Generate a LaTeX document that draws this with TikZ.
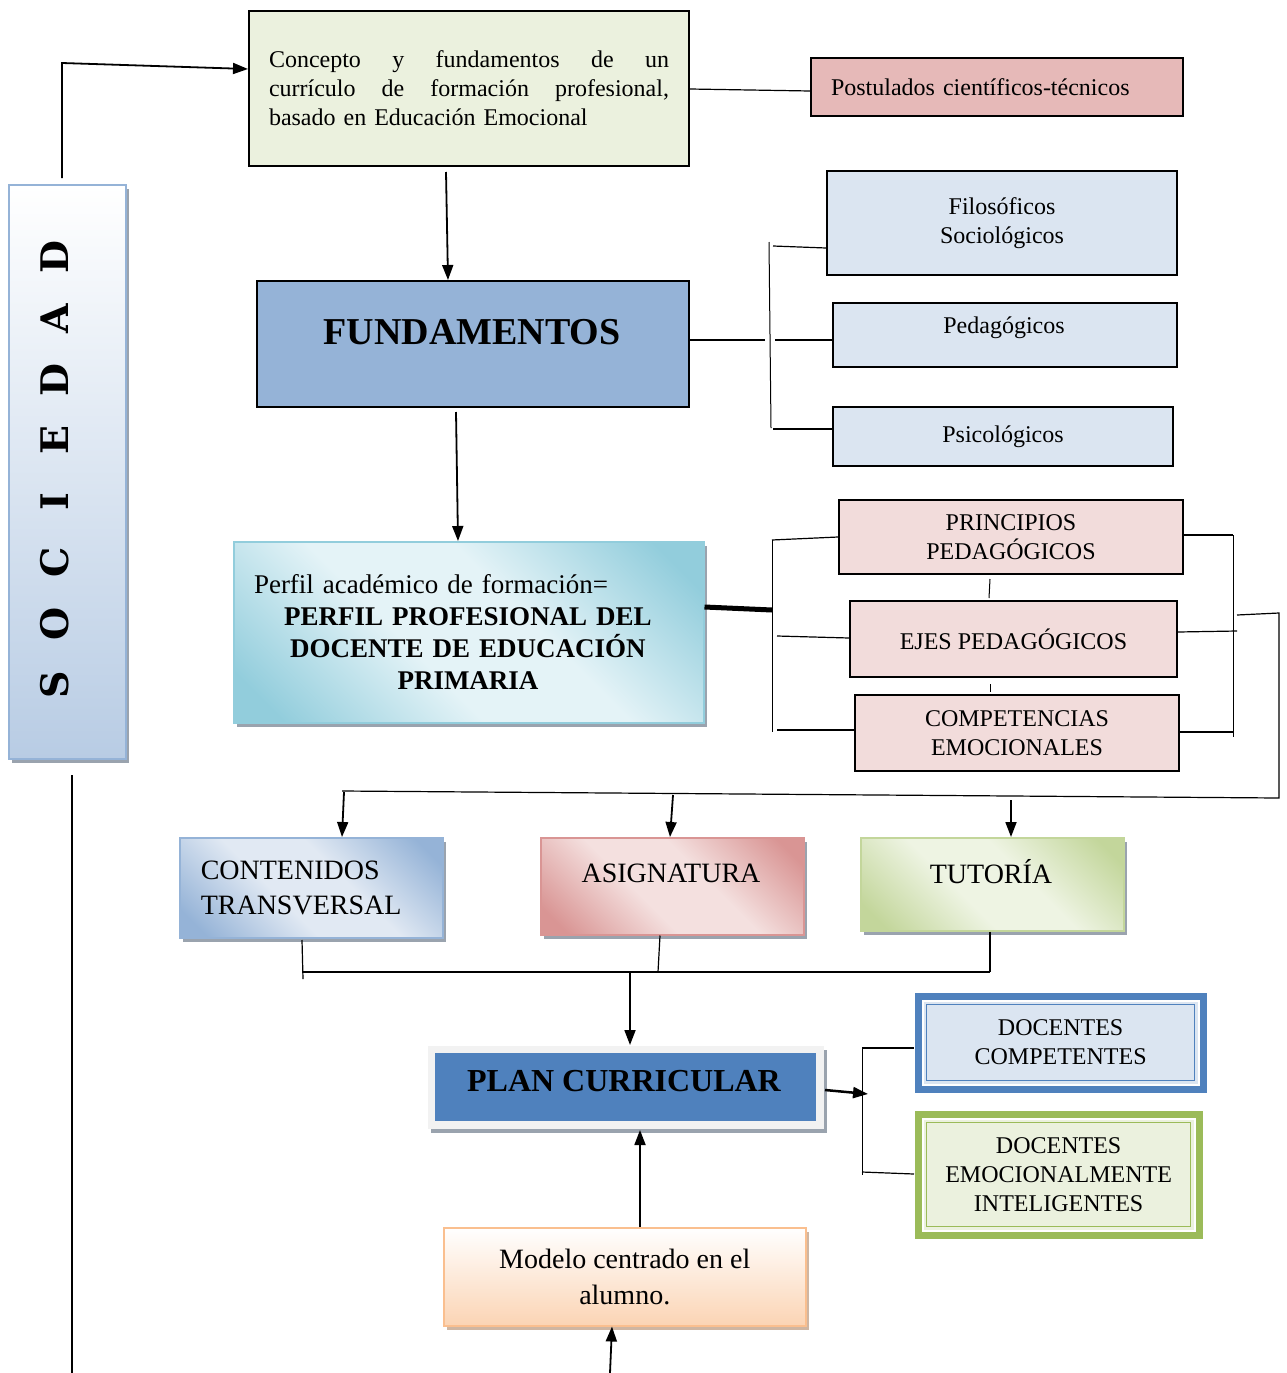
\documentclass[tikz,border=0pt]{standalone}
\usepackage{fontspec}
\setmainfont{Liberation Serif}
\newfontfamily\slab{DejaVu Serif}
\usetikzlibrary{shadows,arrows.meta}
\definecolor{cGreenL}{HTML}{EBF1DE}
\definecolor{cRed}{HTML}{E6B9B8}
\definecolor{cBlueL}{HTML}{DBE5F1}
\definecolor{cBlueM}{HTML}{95B3D7}
\definecolor{cBlueS}{HTML}{B8CCE4}
\definecolor{cPink}{HTML}{F2DCDB}
\definecolor{cAqua}{HTML}{92CDDC}
\definecolor{cAquaL}{HTML}{E4F3F7}
\definecolor{cRedD}{HTML}{D99594}
\definecolor{cRedL}{HTML}{F4E0DF}
\definecolor{cGreenD}{HTML}{C3D69B}
\definecolor{cGreenLL}{HTML}{EEF4E3}
\definecolor{cBlueD}{HTML}{4F81BD}
\definecolor{cBlueLL}{HTML}{E1E9F3}
\definecolor{cOlive}{HTML}{9BBB59}
\definecolor{cPeach}{HTML}{FBD4B4}
\definecolor{cPeachB}{HTML}{FABF8F}
\definecolor{cShadow}{HTML}{9AA3AE}
\pgfdeclarehorizontalshading{diagaqua}{100bp}{color(0bp)=(cAqua); color(20bp)=(cAqua); color(42bp)=(cAquaL); color(58bp)=(cAquaL); color(80bp)=(cAqua); color(100bp)=(cAqua)}
\pgfdeclarehorizontalshading{diagblue}{100bp}{color(0bp)=(cBlueM); color(20bp)=(cBlueM); color(42bp)=(cBlueLL); color(58bp)=(cBlueLL); color(80bp)=(cBlueM); color(100bp)=(cBlueM)}
\pgfdeclarehorizontalshading{diagred}{100bp}{color(0bp)=(cRedD); color(20bp)=(cRedD); color(42bp)=(cRedL); color(58bp)=(cRedL); color(80bp)=(cRedD); color(100bp)=(cRedD)}
\pgfdeclarehorizontalshading{diaggreen}{100bp}{color(0bp)=(cGreenD); color(20bp)=(cGreenD); color(42bp)=(cGreenLL); color(58bp)=(cGreenLL); color(80bp)=(cGreenD); color(100bp)=(cGreenD)}
\tikzset{
  bx/.style={draw=black, line width=2pt, inner sep=0pt, anchor=north west, font=\fontsize{24}{29}\selectfont, align=center},
  sh/.style={drop shadow={shadow xshift=3pt, shadow yshift=-4pt, fill=cShadow, opacity=1}},
  ln/.style={draw=black, line width=1.8pt},
  thinln/.style={draw=black, line width=1pt},
  conn/.style={draw=black, line width=1.2pt},
  arr/.style={ln, -{Triangle[length=15pt,width=11pt]}},
  txt/.style={inner sep=0pt, align=center},
}
\begin{document}
\begin{tikzpicture}[x=1pt,y=-1pt]
\useasboundingbox (0,0) rectangle (1286,1373);
\fill[white] (0,0) rectangle (1286,1373);

% SOCIEDAD
\node[bx, draw=cBlueM, line width=2pt, top color=white, bottom color=cBlueS, sh, minimum width=117pt, minimum height=574pt] (soc) at (8,184) {};
\node[txt, rotate=90, font=\slab\bfseries\fontsize{38}{40}\selectfont] (socT) at (55,471)
  {\makebox[61pt]{S}\makebox[61pt]{O}\makebox[61pt]{C}\makebox[61pt]{I}\makebox[61pt]{E}\makebox[61pt]{D}\makebox[61pt]{A}\makebox[61pt]{D}};

% Concepto
\node[bx, fill=cGreenL, minimum width=440pt, minimum height=155pt, text width=400pt, align=left] (conc) at (248,10)
  {\makebox[400pt][l]{Concepto\hfill y\hfill fundamentos\hfill de\hfill un}\\
   \makebox[400pt][l]{currículo\hfill de\hfill formación\hfill profesional,}\\
   basado en Educación Emocional};
% Postulados
\node[bx, fill=cRed, minimum width=372pt, minimum height=58pt, text width=332pt, align=left] (post) at (810,57)
  {Postulados científicos-técnicos};

% FUNDAMENTOS
\node[bx, fill=cBlueM, minimum width=432pt, minimum height=126pt] (fund) at (256,280) {};
\node[txt, font=\bfseries\fontsize{38}{40}\selectfont] (fundT) at (472,332) {FUNDAMENTOS};

% fundamentos subs
\node[bx, fill=cBlueL, minimum width=350pt, minimum height=104pt] (filo) at (826,170) {Filosóficos\\Sociológicos};
\node[bx, fill=cBlueL, minimum width=344pt, minimum height=64pt] (pedag) at (832,302) {};
\node[txt, font=\fontsize{24}{29}\selectfont] (pedagT) at (1004,328) {Pedagógicos};
\node[bx, fill=cBlueL, minimum width=340pt, minimum height=59pt] (psico) at (832,406) {Psicológicos};

% Perfil
\node[bx, draw=cAqua, line width=1.5pt, shading=diagaqua, shading angle=45, sh, minimum width=470pt, minimum height=181pt] (perf) at (233,541) {};
\node[txt, text width=428pt, font=\fontsize{27}{32}\selectfont] (perfT) at (468,632)
  {\makebox[428pt][l]{Perfil académico de formación=}\\
   {\bfseries PERFIL PROFESIONAL DEL\\ DOCENTE DE EDUCACIÓN\\ PRIMARIA}};

% principios etc
\node[bx, fill=cPink, minimum width=344pt, minimum height=74pt] (prin) at (838,499) {PRINCIPIOS\\PEDAGÓGICOS};
\node[bx, fill=cPink, minimum width=327pt, minimum height=76pt] (ejes) at (849,600) {EJES PEDAGÓGICOS};
\node[bx, fill=cPink, minimum width=324pt, minimum height=76pt] (comp) at (854,694) {COMPETENCIAS\\EMOCIONALES};

% three boxes
\node[bx, draw=cBlueM, line width=1.5pt, shading=diagblue, shading angle=45, sh, minimum width=263pt, minimum height=100pt, text width=221pt, align=left, font=\fontsize{28}{35}\selectfont] (cont) at (179,837)
  {CONTENIDOS\\TRANSVERSAL};
\node[bx, draw=cRedD, line width=1.5pt, shading=diagred, shading angle=45, sh, minimum width=263pt, minimum height=97pt] (asig) at (540,837) {};
\node[txt, font=\fontsize{28}{35}\selectfont] (asigT) at (671,873) {ASIGNATURA};
\node[bx, draw=cGreenD, line width=1.5pt, shading=diaggreen, shading angle=45, sh, minimum width=263pt, minimum height=93pt] (tut) at (860,837) {};
\node[txt, font=\fontsize{28}{35}\selectfont] (tutT) at (991,872) {TUTORÍA};

% Plan curricular
\node[bx, draw=none, fill=black!5, sh, minimum width=396pt, minimum height=83pt] (planO) at (427,1045) {};
\node[bx, draw=none, fill=cBlueD, minimum width=381pt, minimum height=68pt] (plan) at (434,1052) {};
\node[txt, font=\bfseries\fontsize{32}{36}\selectfont] (planT) at (624,1081) {PLAN CURRICULAR};

% Docentes competentes
\node[bx, draw=none, fill=cBlueD, minimum width=292pt, minimum height=100pt] (dcomp) at (914,992) {};
\node[bx, draw=white, line width=2pt, fill=cBlueL, minimum width=276pt, minimum height=84pt] (dcompI) at (922,1000) {};
\node[bx, draw=cBlueD, line width=1.2pt, minimum width=268pt, minimum height=76pt] (dcompII) at (926,1004) {DOCENTES\\COMPETENTES};

% Docentes emocionalmente
\node[bx, draw=none, fill=cOlive, minimum width=288pt, minimum height=128pt] (demo) at (914,1110) {};
\node[bx, draw=white, line width=2pt, fill=cGreenL, minimum width=272pt, minimum height=112pt] (demoI) at (922,1118) {};
\node[bx, draw=cOlive, line width=1.2pt, minimum width=264pt, minimum height=104pt] (demoII) at (926,1122) {DOCENTES\\EMOCIONALMENTE\\INTELIGENTES};

% Modelo
\node[bx, draw=cPeachB, line width=1.5pt, top color=white, bottom color=cPeach, drop shadow={shadow xshift=3pt, shadow yshift=-4pt, fill=cPeachB!70!black!60, opacity=1}, minimum width=362pt, minimum height=98pt, font=\fontsize{28}{36}\selectfont] (mod) at (443,1227)
  {Modelo centrado en el\\alumno.};

% ---------- connectors ----------
\coordinate (sA) at (62,178);
\coordinate (sB) at (62,63);
\draw[arr] (sA) -- (sB) -- (conc.west |- 0,69);
\coordinate (sC) at (72,775);
\coordinate (sD) at (72,1373);
\draw[ln, line width=1.5pt] (sC) -- (sD);

\draw[conn] (conc.east |- 0,89) -- (post.west |- 0,91);
\draw[arr] (446,172) -- (fund.north -| 448,0);

% fundamentos bracket
\coordinate (fb1) at (769,242);
\coordinate (fb2) at (771,428);
\draw[thinln] (fb1) -- (fb2);
\draw[conn] (fund.east |- 0,340) -- (765,340);
\draw[conn] (775,340) -- (pedag.west |- 0,340);
\draw[conn] (773,246) -- (filo.west |- 0,248);
\draw[conn] (773,429) -- (psico.west |- 0,429);

\draw[arr] (456,412) -- (perf.north -| 458,0);

% perfil bracket
\draw[line width=5pt] (perf.east |- 0,607) -- (772,610);
\coordinate (pb1) at (772,540);
\coordinate (pb2) at (772,732);
\draw[thinln] (pb1) -- (pb2);
\draw[conn] (pb1) -- (prin.west |- 0,537);
\draw[conn] (777,636) -- (ejes.west |- 0,638);
\draw[conn] (777,730) -- (comp.west |- 0,730);
\coordinate (t1a) at (990,579);
\coordinate (t1b) at (989,598);
\draw[thinln] (t1a) -- (t1b);
\coordinate (t2a) at (990,684);
\coordinate (t2b) at (990,692);
\draw[thinln] (t2a) -- (t2b);

% right bracket
\coordinate (rb1) at (1233,535);
\coordinate (rb2) at (1233,737);
\draw[thinln] (rb1) -- (rb2);
\draw[conn] (prin.east |- 0,535) -- (rb1);
\draw[conn] (ejes.east |- 0,632) -- (1237,631);
\draw[conn] (comp.east |- 0,732) -- (1233,732);
\coordinate (rr1) at (1237,615);
\coordinate (rr2) at (1279,613);
\coordinate (rr3) at (1279,798);
\coordinate (rr4) at (342,791);
\draw[conn] (rr1) -- (rr2) -- (rr3) -- (rr4);

\draw[arr] (344,792) -- (cont.north -| 342,0);
\draw[arr] (673,795) -- (asig.north -| 670,0);
\draw[arr] (1011,800) -- (tut.north -| 1011,0);

% bottom joins
\coordinate (jL) at (302,972);
\coordinate (jR) at (990,972);
\draw[conn] (302,940) -- (303,979);
\draw[conn] (asig.south -| 660,0) -- (658,972);
\draw[conn] (tut.south -| 990,0) -- (jR);
\draw[conn, line width=1.5pt] (jL) -- (jR);
\draw[arr] (630,972) -- (planO.north -| 630,0);

% plan right
\draw[arr, line width=2.5pt] (planO.east |- 0,1090) -- (868,1094);
\coordinate (pr1) at (862,1048);
\coordinate (pr2) at (862,1175);
\draw[thinln] (pr1) -- (pr2);
\draw[conn] (pr1) -- (dcomp.west |- 0,1048);
\draw[conn] (862,1172) -- (demo.west |- 0,1174);

% modelo
\draw[arr] (mod.north -| 640,0) -- (planO.south -| 640,0);
\coordinate (mB) at (610,1373);
\draw[arr] (mB) -- (mod.south -| 612,0);
\end{tikzpicture}
\end{document}
